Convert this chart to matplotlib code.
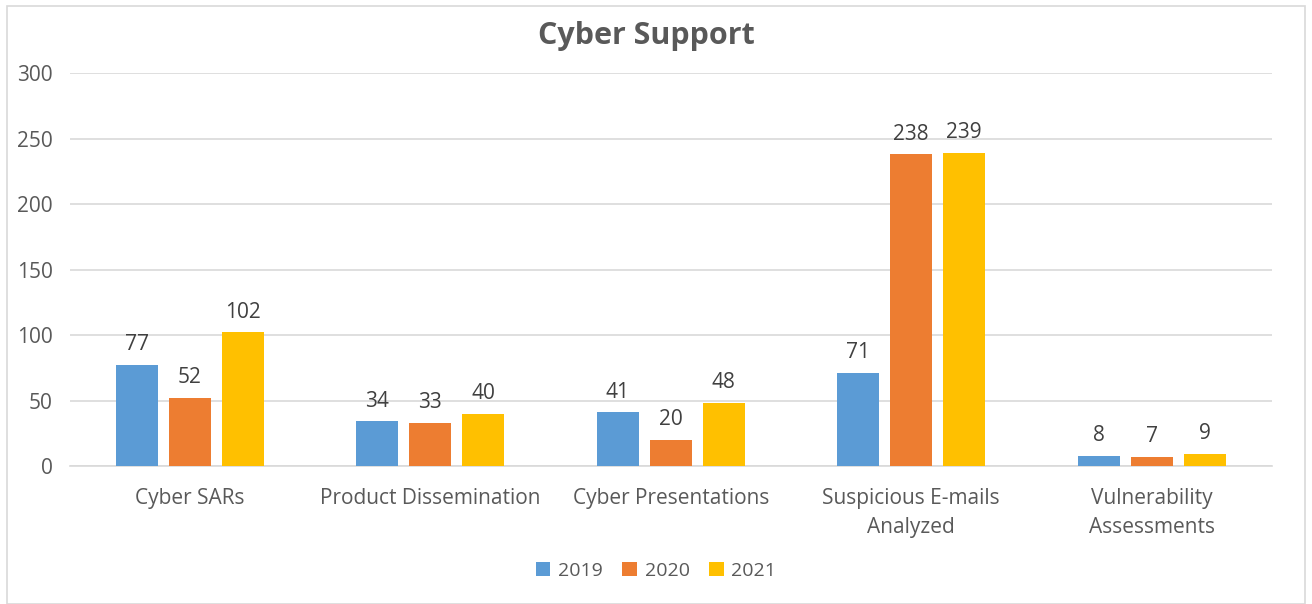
import numpy as np
import matplotlib.pyplot as plt
from matplotlib.patches import Rectangle

categories = ["Cyber SARs", "Product Dissemination", "Cyber Presentations",
              "Suspicious E-mails\nAnalyzed", "Vulnerability\nAssessments"]
years = ["2019", "2020", "2021"]
values_2019 = [77, 34, 41, 71, 8]
values_2020 = [52, 33, 20, 238, 7]
values_2021 = [102, 40, 48, 239, 9]
yticks = [0, 50, 100, 150, 200, 250, 300]

colors = ["#5B9BD5", "#ED7D31", "#FFC000"]
text_color = "#595959"
grid_color = "#D9D9D9"

plt.rcParams["font.family"] = ["Open Sans", "DejaVu Sans"]

fig = plt.figure(figsize=(13.12, 6.04), dpi=100)
ax = fig.add_axes([0.053, 0.2285, 0.9165, 0.6505])

# chart border
fig.patches.append(Rectangle((0.005, 0.0), 0.99, 0.99, transform=fig.transFigure,
                             fill=False, edgecolor=grid_color, linewidth=1.2))

x = np.arange(len(categories))
width = 0.175
offset = 0.22
series = [values_2019, values_2020, values_2021]
for i, (vals, year) in enumerate(zip(series, years)):
    pos = x + (i - 1) * offset
    bars = ax.bar(pos, vals, width, color=colors[i], label=year, zorder=3)
    for b, v in zip(bars, vals):
        ax.annotate(str(v), (b.get_x() + b.get_width() / 2, v),
                    xytext=(0, 7), textcoords="offset points",
                    ha="center", va="bottom", fontsize=15, color="#404040")

ax.set_xlim(-0.5, len(categories) - 0.5)
ax.set_ylim(0, 300)
ax.set_yticks(yticks)
ax.yaxis.grid(True, color=grid_color, linewidth=1.2, zorder=0)
ax.set_axisbelow(True)
for s in ["top", "right", "left"]:
    ax.spines[s].set_visible(False)
ax.spines["bottom"].set_color(grid_color)
ax.spines["bottom"].set_linewidth(1.2)
ax.tick_params(axis="both", length=0, labelsize=15, colors=text_color)
ax.tick_params(axis="y", pad=12)
ax.tick_params(axis="x", pad=16)
ax.set_xticks(x)
ax.set_xticklabels(categories, linespacing=1.5)

fig.text(0.493, 0.94, "Cyber Support", ha="center", va="center",
         fontsize=22, fontweight="bold", color=text_color)

fig.legend(loc="center", bbox_to_anchor=(0.5, 0.055), ncol=3, frameon=False,
           fontsize=14, handlelength=0.75, handleheight=0.75, handletextpad=0.4,
           columnspacing=1.0, labelcolor=text_color)

fig.savefig("out.png", dpi=100)
